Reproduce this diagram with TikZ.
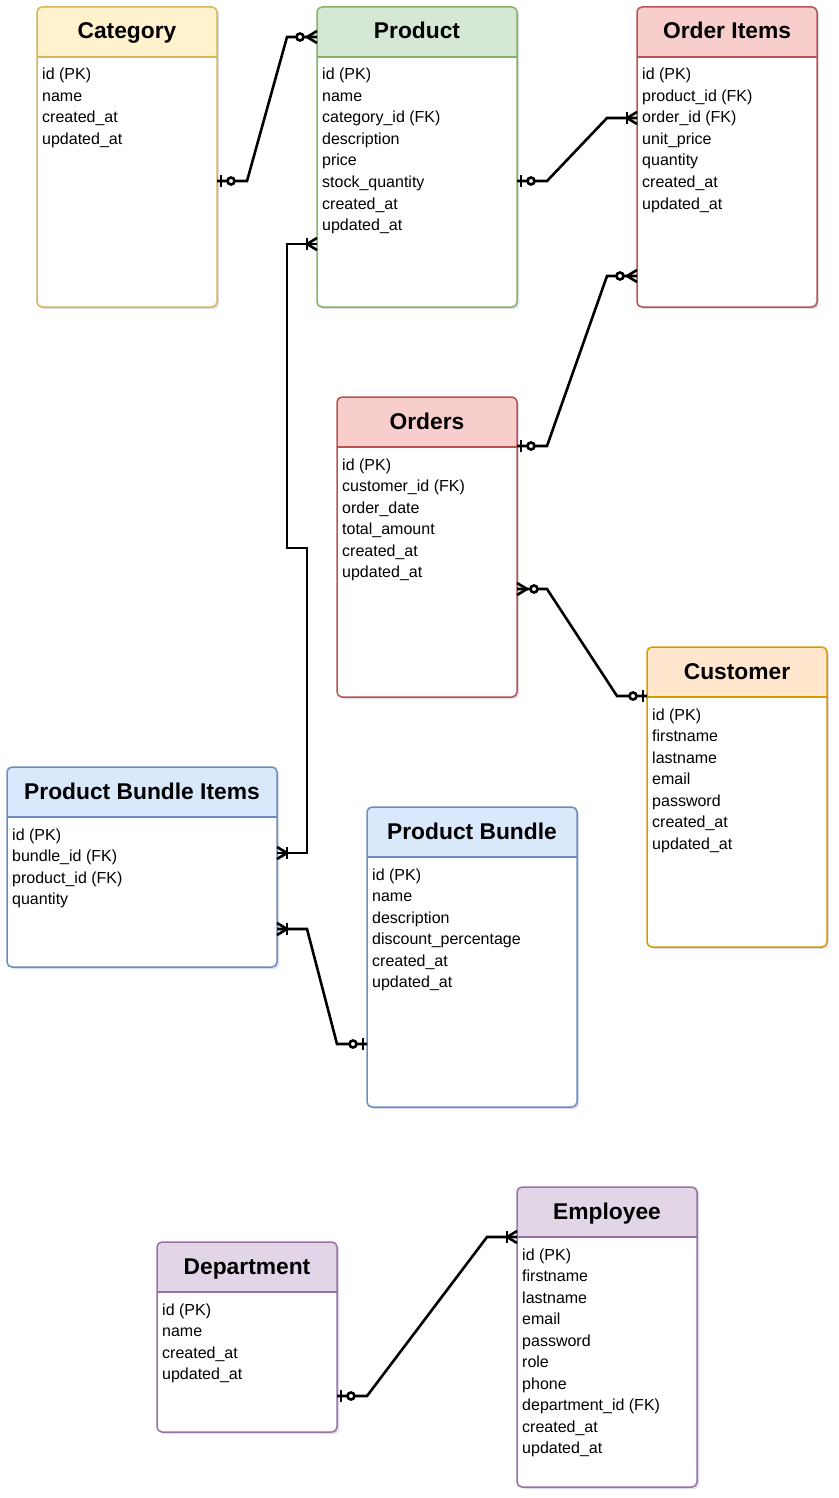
\documentclass[tikz,border=0pt]{standalone}
\usepackage{fontspec}
\setmainfont{Liberation Sans}
\usetikzlibrary{calc,shadows}
\definecolor{yellowF}{HTML}{FFF2CC}
\definecolor{yellowS}{HTML}{D6B656}
\definecolor{greenF}{HTML}{D5E8D4}
\definecolor{greenS}{HTML}{82B366}
\definecolor{redF}{HTML}{F8CECC}
\definecolor{redS}{HTML}{B85450}
\definecolor{orangeF}{HTML}{FFE6CC}
\definecolor{orangeS}{HTML}{D79B00}
\definecolor{blueF}{HTML}{DAE8FC}
\definecolor{blueS}{HTML}{6C8EBF}
\definecolor{purpleF}{HTML}{E1D5E7}
\definecolor{purpleS}{HTML}{9673A6}

\tikzset{
  entity/.style 2 args={draw=#2, fill=white, line width=1.5pt, rounded corners=5pt,
    anchor=north west, inner sep=0pt, outer sep=0pt,
    drop shadow={shadow xshift=2pt, shadow yshift=-2pt, opacity=0.2, fill=blue!30!gray},
    path picture={
      \fill[#1, sharp corners] (path picture bounding box.north west) rectangle ([yshift=-50pt]path picture bounding box.north east);
      \draw[#2, line width=1.5pt, sharp corners] ([yshift=-50pt]path picture bounding box.north west) -- ([yshift=-50pt]path picture bounding box.north east);}},
  etitle/.style={font=\bfseries\fontsize{22.8}{27}\selectfont, anchor=base, inner sep=0pt},
  efield/.style={font=\fontsize{16}{19}\selectfont, anchor=base west, inner sep=0pt},
  rel/.style={draw=black, line width=2.6pt},
  pictrait/.style={draw=black, line width=2.6pt, solid, sharp corners},
  % markers: entity at the origin, line coming in from the left
  zero one/.pic={\draw[pictrait] (-4pt,-6pt) -- (-4pt,6pt);
    \draw[pictrait, fill=white] (-14pt,0pt) circle (3.5pt);},
  zero many/.pic={\draw[pictrait] (0pt,-6pt) -- (-10pt,0pt) -- (0pt,6pt);
    \draw[pictrait, fill=white] (-17pt,0pt) circle (3.5pt);},
  one many/.pic={\draw[pictrait] (0pt,-6pt) -- (-10pt,0pt) -- (0pt,6pt);
    \draw[pictrait] (-10pt,-6pt) -- (-10pt,6pt);},
  flip/.style={xscale=-1},
}

\begin{document}
\begin{tikzpicture}[x=1pt, y=-1pt]
\useasboundingbox (0,0) rectangle (838,1498);

% Category
\node[entity={yellowF}{yellowS}, minimum width=180pt, minimum height=300pt] (cat) at (37,7) {};
\node[etitle] (catT) at ([yshift=-32pt]cat.north) {Category};
\foreach \t [count=\i] in {id (PK), name, created\_at, updated\_at}
  \node[efield] (cat\i) at ([xshift=5pt, yshift={-73pt-21.5pt*(\i-1)}]cat.north west) {\t};

% Product
\node[entity={greenF}{greenS}, minimum width=200pt, minimum height=300pt] (prod) at (317,7) {};
\node[etitle] (prodT) at ([yshift=-32pt]prod.north) {Product};
\foreach \t [count=\i] in {id (PK), name, category\_id (FK), description, price, stock\_quantity, created\_at, updated\_at}
  \node[efield] (prod\i) at ([xshift=5pt, yshift={-73pt-21.5pt*(\i-1)}]prod.north west) {\t};

% Order Items
\node[entity={redF}{redS}, minimum width=180pt, minimum height=300pt] (oitem) at (637,7) {};
\node[etitle] (oitemT) at ([yshift=-32pt]oitem.north) {Order Items};
\foreach \t [count=\i] in {id (PK), product\_id (FK), order\_id (FK), unit\_price, quantity, created\_at, updated\_at}
  \node[efield] (oitem\i) at ([xshift=5pt, yshift={-73pt-21.5pt*(\i-1)}]oitem.north west) {\t};

% Orders
\node[entity={redF}{redS}, minimum width=180pt, minimum height=300pt] (ord) at (337,397) {};
\node[etitle] (ordT) at ([yshift=-32pt]ord.north) {Orders};
\foreach \t [count=\i] in {id (PK), customer\_id (FK), order\_date, total\_amount, created\_at, updated\_at}
  \node[efield] (ord\i) at ([xshift=5pt, yshift={-73pt-21.5pt*(\i-1)}]ord.north west) {\t};

% Customer
\node[entity={orangeF}{orangeS}, minimum width=180pt, minimum height=300pt] (cust) at (647,647) {};
\node[etitle] (custT) at ([yshift=-32pt]cust.north) {Customer};
\foreach \t [count=\i] in {id (PK), firstname, lastname, email, password, created\_at, updated\_at}
  \node[efield] (cust\i) at ([xshift=5pt, yshift={-73pt-21.5pt*(\i-1)}]cust.north west) {\t};

% Product Bundle Items
\node[entity={blueF}{blueS}, minimum width=270pt, minimum height=200pt] (pbi) at (7,767) {};
\node[etitle] (pbiT) at ([yshift=-32pt]pbi.north) {Product Bundle Items};
\foreach \t [count=\i] in {id (PK), bundle\_id (FK), product\_id (FK), quantity}
  \node[efield] (pbi\i) at ([xshift=5pt, yshift={-73pt-21.5pt*(\i-1)}]pbi.north west) {\t};

% Product Bundle
\node[entity={blueF}{blueS}, minimum width=210pt, minimum height=300pt] (pb) at (367,807) {};
\node[etitle] (pbT) at ([yshift=-32pt]pb.north) {Product Bundle};
\foreach \t [count=\i] in {id (PK), name, description, discount\_percentage, created\_at, updated\_at}
  \node[efield] (pb\i) at ([xshift=5pt, yshift={-73pt-21.5pt*(\i-1)}]pb.north west) {\t};

% Department
\node[entity={purpleF}{purpleS}, minimum width=180pt, minimum height=190pt] (dep) at (157,1242) {};
\node[etitle] (depT) at ([yshift=-32pt]dep.north) {Department};
\foreach \t [count=\i] in {id (PK), name, created\_at, updated\_at}
  \node[efield] (dep\i) at ([xshift=5pt, yshift={-73pt-21.5pt*(\i-1)}]dep.north west) {\t};

% Employee
\node[entity={purpleF}{purpleS}, minimum width=180pt, minimum height=300pt] (emp) at (517,1187) {};
\node[etitle] (empT) at ([yshift=-32pt]emp.north) {Employee};
\foreach \t [count=\i] in {id (PK), firstname, lastname, email, password, role, phone, department\_id (FK), created\_at, updated\_at}
  \node[efield] (emp\i) at ([xshift=5pt, yshift={-73pt-21.5pt*(\i-1)}]emp.north west) {\t};

% relations
\draw[rel] ([yshift=-174pt]cat.north east) -- ++(30,0)
  -- ([xshift=-30pt, yshift=-30pt]prod.north west) -- ([yshift=-30pt]prod.north west);
\pic[flip] at ([yshift=-174pt]cat.north east) {zero one};
\pic at ([yshift=-30pt]prod.north west) {zero many};

\draw[rel] ([yshift=-174pt]prod.north east) -- ++(30,0)
  -- ([xshift=-30pt, yshift=-111pt]oitem.north west) -- ([yshift=-111pt]oitem.north west);
\pic[flip] at ([yshift=-174pt]prod.north east) {zero one};
\pic at ([yshift=-111pt]oitem.north west) {one many};

\draw[rel] ([yshift=-49pt]ord.north east) -- ++(30,0)
  -- ([xshift=-30pt, yshift=-269pt]oitem.north west) -- ([yshift=-269pt]oitem.north west);
\pic[flip] at ([yshift=-49pt]ord.north east) {zero one};
\pic at ([yshift=-269pt]oitem.north west) {zero many};

\draw[rel] ([yshift=-192pt]ord.north east) -- ++(30,0)
  -- ([xshift=-30pt, yshift=-49pt]cust.north west) -- ([yshift=-49pt]cust.north west);
\pic[flip] at ([yshift=-192pt]ord.north east) {zero many};
\pic at ([yshift=-49pt]cust.north west) {zero one};

\draw[rel] ([yshift=-237pt]prod.north west) -- ++(-30,0) -- ++(0,304) -- ++(20,0)
  |- ([yshift=-86pt]pbi.north east);
\pic at ([yshift=-237pt]prod.north west) {one many};
\pic[flip] at ([yshift=-86pt]pbi.north east) {one many};

\draw[rel] ([yshift=-162pt]pbi.north east) -- ++(30,0)
  -- ([xshift=-30pt, yshift=-237pt]pb.north west) -- ([yshift=-237pt]pb.north west);
\pic[flip] at ([yshift=-162pt]pbi.north east) {one many};
\pic at ([yshift=-237pt]pb.north west) {zero one};

\draw[rel] ([yshift=-154pt]dep.north east) -- ++(30,0)
  -- ([xshift=-30pt, yshift=-50pt]emp.north west) -- ([yshift=-50pt]emp.north west);
\pic[flip] at ([yshift=-154pt]dep.north east) {zero one};
\pic at ([yshift=-50pt]emp.north west) {one many};
\end{tikzpicture}
\end{document}
